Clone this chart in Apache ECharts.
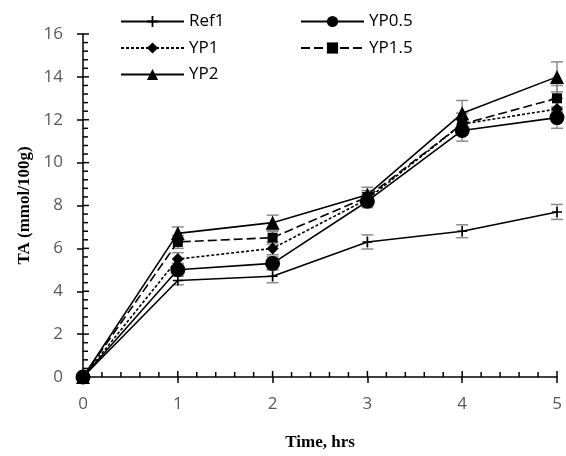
<!DOCTYPE html>
<html>
<head>
<meta charset="utf-8">
<script src="https://cdn.jsdelivr.net/npm/echarts@6/dist/echarts.min.js"></script>
<style>
  html, body { margin: 0; padding: 0; background: #fff; }
  #chart { width: 566px; height: 456px; }
</style>
</head>
<body>
<div id="chart"></div>
<script>
"use strict";

// datos
const hours = [0, 1, 2, 3, 4, 5];
const seriesNames = ['Ref1', 'YP0.5', 'YP1', 'YP1.5', 'YP2'];

const ref1 = [0, 4.5, 4.7, 6.3, 6.8, 7.7];
const yp05 = [0, 5.0, 5.3, 8.2, 11.5, 12.1];
const yp1 = [0, 5.5, 6.0, 8.3, 11.8, 12.5];
const yp15 = [0, 6.3, 6.5, 8.4, 11.8, 13.0];
const yp2 = [0, 6.7, 7.2, 8.5, 12.3, 14.0];

// desviaciones (barras de error)
const ref1Err = [0, 0.2, 0.3, 0.33, 0.3, 0.35];
const yp05Err = [0, 0.3, 0.3, 0.3, 0.5, 0.5];
const yp1Err = [0, 0.3, 0.3, 0.3, 0.5, 0.5];
const yp15Err = [0, 0.3, 0.3, 0.3, 0.5, 0.6];
const yp2Err = [0, 0.3, 0.35, 0.35, 0.6, 0.7];

// marcas menores de los ejes (5 divisiones por intervalo)
const xMinorTicks = [];
for (let i = 0; i <= 25; i++) xMinorTicks.push(+(i * 0.2).toFixed(1));
const yMinorTicks = [];
for (let i = 0; i <= 40; i++) yMinorTicks.push(+(i * 0.4).toFixed(1));

const plusIcon = 'path://M4.2,0H5.8V4.2H10V5.8H5.8V10H4.2V5.8H0V4.2H4.2Z';

const values = [ref1, yp05, yp1, yp15, yp2];
const errors = [ref1Err, yp05Err, yp1Err, yp15Err, yp2Err];
const symbols = [plusIcon, 'circle', 'diamond', 'rect', 'triangle'];
const symbolSizes = [10, 15, 12, 10, 14];
const dashes = ['solid', 'solid', [3, 2], [9, 4], 'solid'];

var myChart = echarts.init(document.getElementById('chart'));

// barras de error con serie custom
const errorSeries = values.map((vals, s) => ({
    type: 'custom',
    name: seriesNames[s] + ' err',
    z: 1,
    silent: true,
    data: hours.map((h, i) => [h, vals[i] - errors[s][i], vals[i] + errors[s][i]]),
    renderItem: (params, api) => {
        const lo = api.coord([api.value(0), api.value(1)]);
        const hi = api.coord([api.value(0), api.value(2)]);
        const w = 6;
        const style = { stroke: '#8c8c8c', lineWidth: 1.5, fill: null };
        return {
            type: 'group',
            children: [
                { type: 'line', shape: { x1: lo[0], y1: lo[1], x2: hi[0], y2: hi[1] }, style },
                { type: 'line', shape: { x1: lo[0] - w, y1: lo[1], x2: lo[0] + w, y2: lo[1] }, style },
                { type: 'line', shape: { x1: hi[0] - w, y1: hi[1], x2: hi[0] + w, y2: hi[1] }, style }
            ]
        };
    }
}));

// marcas hacia dentro (mayores y menores)
const xTickSeries = {
    type: 'custom', silent: true, clip: false, z: 5,
    data: xMinorTicks.map(v => [v, 0]),
    renderItem: (params, api) => {
        const p = api.coord([api.value(0), 0]);
        const len = Number.isInteger(api.value(0)) ? 6 : 5;
        return { type: 'line', shape: { x1: p[0], y1: p[1], x2: p[0], y2: p[1] - len },
            style: { stroke: '#000', lineWidth: 1.5 } };
    }
};
const yTickSeries = {
    type: 'custom', silent: true, clip: false, z: 5,
    data: yMinorTicks.map(v => [0, v]),
    renderItem: (params, api) => {
        const p = api.coord([0, api.value(1)]);
        const len = api.value(1) % 2 === 0 ? 6 : 5;
        return { type: 'line', shape: { x1: p[0], y1: p[1], x2: p[0] + len, y2: p[1] },
            style: { stroke: '#000', lineWidth: 1.5 } };
    }
};

const lineSeries = values.map((vals, s) => ({
    type: 'line',
    name: seriesNames[s],
    z: 3,
    data: hours.map((h, i) => [h, vals[i]]),
    symbol: symbols[s],
    symbolSize: symbolSizes[s],
    showAllSymbol: true,
    lineStyle: { color: '#000', width: 1.6, type: dashes[s] },
    itemStyle: { color: '#000', borderColor: '#000', borderWidth: 0 },
    emphasis: { disabled: true }
}));

const legendText = { fontFamily: 'Open Sans', fontSize: 17, color: '#000', lineHeight: 14 };
const axisColor = { color: '#000', width: 1.5 };

var option = {
    animation: false,
    grid: { left: 83, right: 9, top: 34, bottom: 79, containLabel: false },
    legend: [
        {
            orient: 'vertical', left: 120, top: 13, padding: 0,
            itemWidth: 63, itemHeight: 14, itemGap: 9.5,
            data: ['Ref1', 'YP1', 'YP2'],
            textStyle: legendText
        },
        {
            orient: 'vertical', left: 300, top: 13, padding: 0,
            itemWidth: 63, itemHeight: 14, itemGap: 9.5,
            data: ['YP0.5', 'YP1.5'],
            textStyle: legendText
        }
    ],
    xAxis: {
        type: 'value', min: 0, max: 5, interval: 1,
        name: 'Time, hrs', nameLocation: 'middle', nameGap: 57,
        nameTextStyle: { fontFamily: 'Liberation Serif', fontWeight: 'bold', fontSize: 17, color: '#000' },
        axisLine: { onZero: false, lineStyle: axisColor },
        axisTick: { show: true, inside: false, length: 6, lineStyle: axisColor },
        axisLabel: { fontFamily: 'Open Sans', fontSize: 17, color: '#595959', margin: 19 },
        splitLine: { show: false }
    },
    yAxis: {
        type: 'value', min: 0, max: 16, interval: 2,
        name: 'TA (mmol/100g)', nameLocation: 'middle', nameGap: 48, nameRotate: 90,
        nameTextStyle: { fontFamily: 'Liberation Serif', fontWeight: 'bold', fontSize: 17, color: '#000' },
        axisLine: { show: true, onZero: false, lineStyle: axisColor },
        axisTick: { show: true, inside: false, length: 6, lineStyle: axisColor },
        axisLabel: { fontFamily: 'Open Sans', fontSize: 17, color: '#595959', margin: 20 },
        splitLine: { show: false }
    },
    series: [...errorSeries, xTickSeries, yTickSeries, ...lineSeries]
};

myChart.setOption(option);
</script>
</body>
</html>
